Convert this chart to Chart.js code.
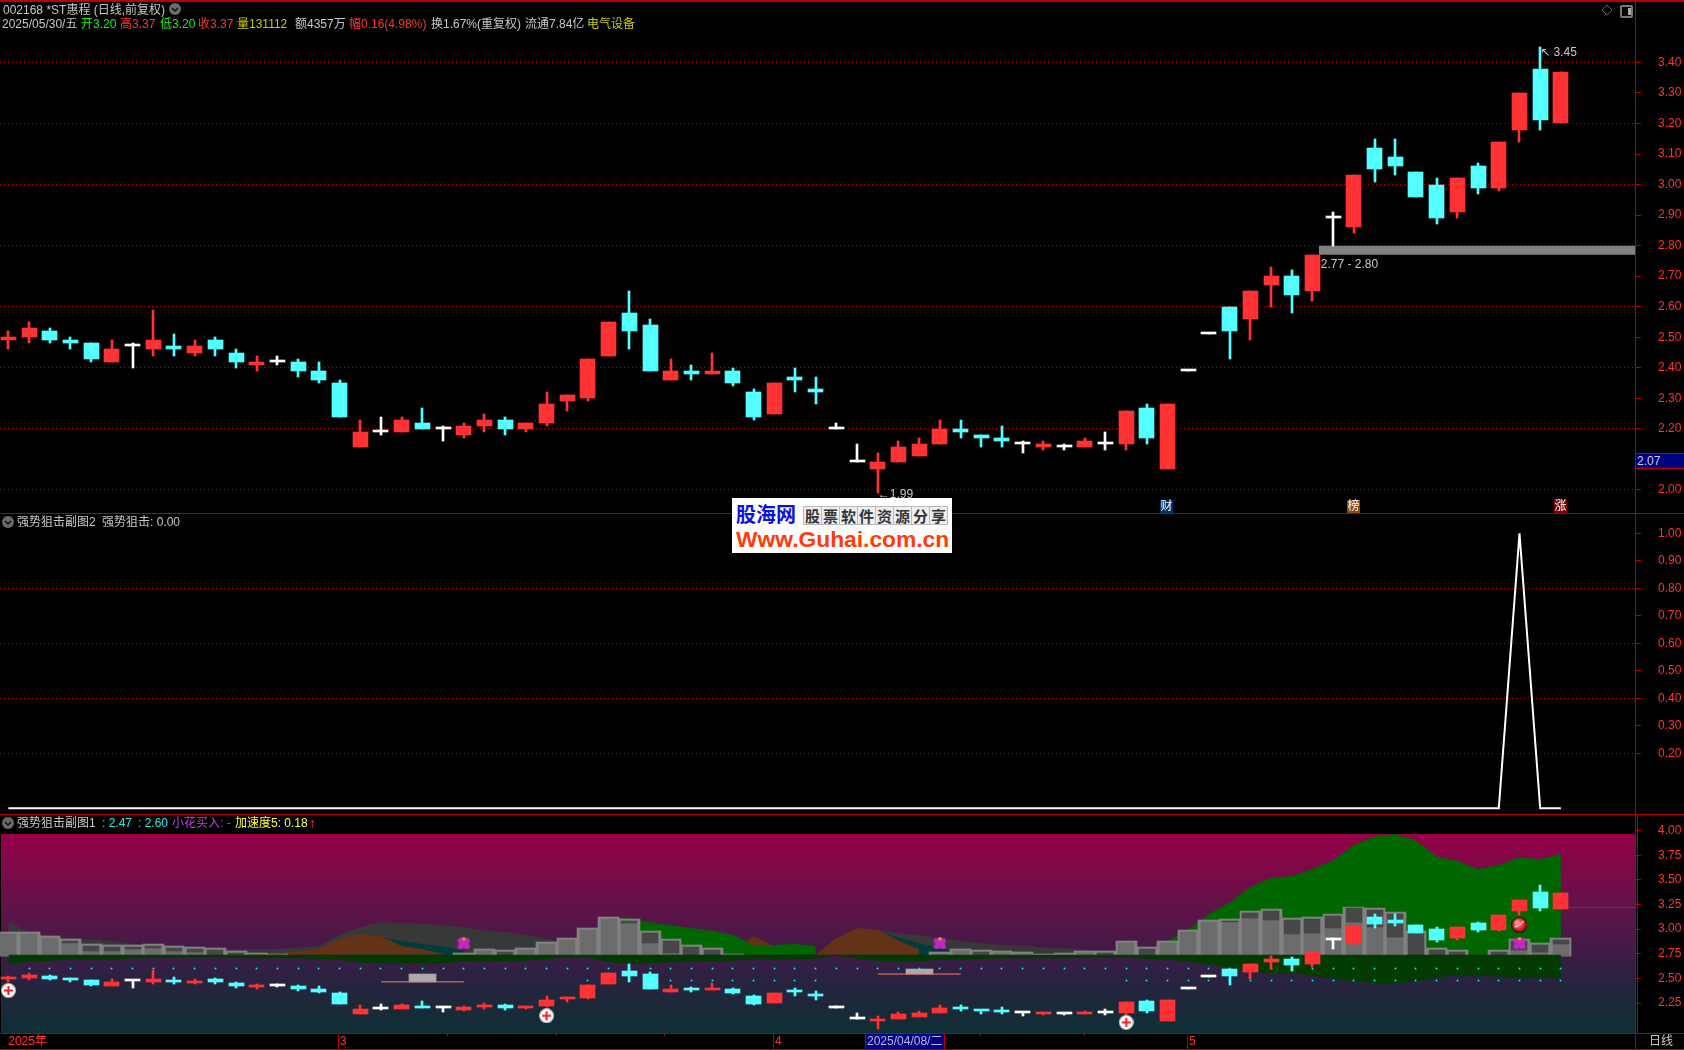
<!DOCTYPE html>
<html lang="zh">
<head>
<meta charset="utf-8">
<title>002168 *ST惠程</title>
<script src="https://cdn.jsdelivr.net/npm/chart.js@4"></script>
<style>
html,body{margin:0;padding:0;background:#000;width:1684px;height:1050px;overflow:hidden}
body{position:relative;font:12px/14px "Liberation Sans","Noto Sans CJK SC",sans-serif;color:#c8c8c8}
canvas{position:absolute;left:0}
.t{position:absolute;white-space:nowrap;height:14px;line-height:14px}
.hl,.vl{position:absolute;background:#b40000}
.hl{left:0;width:1684px;height:1px}
.vl{width:1px}
.g{color:#22e822}.r{color:#ff3333}.y{color:#cccc00}.c{color:#33e6e6}.w{color:#c8c8c8}
.chev{position:absolute;width:12px;height:12px}
.tag{position:absolute;width:13px;height:13px;top:500px;color:#fff;font-size:12px;line-height:13px;text-align:center}
#bg3{position:absolute;left:1px;top:834px;width:1634px;height:199px;
 background:linear-gradient(to bottom,rgb(150,0,72) 0%,rgb(100,18,72) 35%,rgb(60,28,70) 62%,rgb(38,36,62) 76%,rgb(13,47,52) 100%)}
#wm{position:absolute;left:732px;top:498px;width:220px;height:55px;background:#fff;overflow:hidden}
#wm .a{position:absolute;left:4px;top:4px;font:bold 20px/24px "Noto Sans CJK SC",sans-serif;color:#0a10e0;letter-spacing:0}
#wm .b{position:absolute;left:71px;top:8px;display:flex;border:1px solid #bbb}
#wm .b span{width:17px;height:17px;border-right:1px solid #bbb;background:#eee;font:bold 15px/17px "Noto Sans CJK SC",sans-serif;color:#333;text-align:center}
#wm .b span:last-child{border-right:0}
#wm .u{position:absolute;left:4px;top:29px;font:bold 22.8px/24px "Liberation Sans",sans-serif;color:#ff3c0a}
</style>
</head>
<body>
<div id="bg3"></div>
<canvas id="p1" width="1684" height="514" style="top:0"></canvas>
<canvas id="p2" width="1684" height="300" style="top:514px"></canvas>
<canvas id="p3" width="1684" height="220" style="top:814px"></canvas>

<div class="hl" style="top:0;height:2px"></div>
<div class="hl" style="top:513px"></div>
<div class="hl" style="top:814px"></div>
<div class="hl" style="top:1033px"></div>
<div class="hl" style="top:1049px"></div>
<div class="vl" style="left:1635px;top:0;height:1050px"></div>
<div class="vl" style="left:1637px;top:815px;height:218px"></div>

<!-- main header -->
<div class="t w" style="left:3px;top:3px">002168 *ST惠程 (日线,前复权)</div>
<svg class="chev" style="left:169px;top:3px" viewBox="0 0 12 12"><circle cx="6" cy="6" r="6" fill="#6a6a6a"/><polyline points="3,5 6,8 9,5" fill="none" stroke="#111" stroke-width="1.5"/></svg>
<div class="t w" style="left:2px;top:17px">2025/05/30/五</div>
<div class="t g" style="left:81px;top:17px">开3.20</div>
<div class="t r" style="left:120px;top:17px">高3.37</div>
<div class="t g" style="left:160px;top:17px">低3.20</div>
<div class="t r" style="left:198px;top:17px">收3.37</div>
<div class="t y" style="left:237px;top:17px">量131112</div>
<div class="t w" style="left:295px;top:17px">额4357万</div>
<div class="t r" style="left:349px;top:17px">幅0.16(4.98%)</div>
<div class="t w" style="left:431px;top:17px">换1.67%(重复权)</div>
<div class="t w" style="left:525px;top:17px">流通7.84亿</div>
<div class="t y" style="left:587px;top:17px">电气设备</div>
<svg style="position:absolute;left:1601px;top:4px;width:12px;height:12px" viewBox="0 0 12 12"><polygon points="6,1 11,6 6,11 1,6" fill="none" stroke="#666"/></svg>
<div style="position:absolute;left:1620px;top:5px;width:9px;height:9px;border:2px solid #777;border-radius:2px"><div style="position:absolute;right:0;top:1px;width:3px;height:7px;background:#aaa"></div></div>

<!-- pane tags -->
<div class="tag" style="left:1160px;background:#003070">财</div>
<div class="tag" style="left:1347px;background:#8a4a10">榜</div>
<div class="tag" style="left:1554px;background:#800000">涨</div>

<!-- current price box -->
<div style="position:absolute;left:1636px;top:453px;width:48px;height:14px;background:#000080;border-top:1px solid #c00000;border-bottom:1px solid #c00000"></div>
<div class="t" style="left:1637px;top:454px;color:#d0d0d0">2.07</div>

<!-- pane 2 header -->
<svg class="chev" style="left:2px;top:516px" viewBox="0 0 12 12"><circle cx="6" cy="6" r="6" fill="#6a6a6a"/><polyline points="3,5 6,8 9,5" fill="none" stroke="#111" stroke-width="1.5"/></svg>
<div class="t w" style="left:17px;top:515px">强势狙击副图2</div>
<div class="t w" style="left:102px;top:515px">强势狙击: 0.00</div>

<!-- pane 3 header -->
<svg class="chev" style="left:2px;top:817px" viewBox="0 0 12 12"><circle cx="6" cy="6" r="6" fill="#6a6a6a"/><polyline points="3,5 6,8 9,5" fill="none" stroke="#111" stroke-width="1.5"/></svg>
<div class="t w" style="left:17px;top:816px">强势狙击副图1</div>
<div class="t c" style="left:102px;top:816px">: 2.47</div>
<div class="t c" style="left:138px;top:816px">: 2.60</div>
<div class="t" style="left:172px;top:816px;color:#c040e0">小花买入: -</div>
<div class="t" style="left:235px;top:816px;color:#ffff33">加速度5: 0.18</div>
<div class="t r" style="left:309px;top:816px;font-weight:bold;font-size:14px">↑</div>

<!-- time axis -->
<div class="t r" style="left:8px;top:1034px">2025年</div>
<div class="vl" style="left:338px;top:1033px;height:16px"></div>
<div class="t r" style="left:340px;top:1034px">3</div>
<div class="vl" style="left:447px;top:1033px;height:3px"></div>
<div class="vl" style="left:556px;top:1033px;height:3px"></div>
<div class="vl" style="left:664px;top:1033px;height:3px"></div>
<div class="vl" style="left:773px;top:1033px;height:16px"></div>
<div class="t r" style="left:775px;top:1034px">4</div>
<div style="position:absolute;left:865px;top:1034px;width:78px;height:15px;background:#000080;border-left:1px solid #c00000;border-right:1px solid #c00000"></div>
<div class="t" style="left:867px;top:1034px;color:#b8b8e8">2025/04/08/二</div>
<div class="vl" style="left:980px;top:1033px;height:3px"></div>
<div class="vl" style="left:1084px;top:1033px;height:3px"></div>
<div class="vl" style="left:1187px;top:1033px;height:16px"></div>
<div class="t r" style="left:1189px;top:1034px">5</div>
<div class="t w" style="left:1649px;top:1034px">日线</div>

<div id="wm">
 <div class="a">股海网</div>
 <div class="b"><span>股</span><span>票</span><span>软</span><span>件</span><span>资</span><span>源</span><span>分</span><span>享</span></div>
 <div class="u">Www.Guhai.com.cn</div>
</div>

<script>
// ---------- data ----------
const dates=["02-07","02-10","02-11","02-12","02-13","02-14","02-17","02-18","02-19","02-20","02-21","02-24","02-25","02-26","02-27","02-28",
"03-03","03-04","03-05","03-06","03-07","03-10","03-11","03-12","03-13","03-14","03-17","03-18","03-19","03-20","03-21","03-24","03-25","03-26","03-27","03-28","03-31",
"04-01","04-02","04-03","04-07","04-08","04-09","04-10","04-11","04-14","04-15","04-16","04-17","04-18","04-21","04-22","04-23","04-24","04-25","04-28",
"04-29","05-06","05-07","05-08","05-09","05-12","05-13","05-14","05-15","05-16","05-19","05-20","05-21","05-22","05-23","05-26","05-27","05-28","05-29","05-30"];
const openP=[2.49,2.50,2.52,2.49,2.48,2.42,2.47,2.46,2.47,2.45,2.49,2.45,2.41,2.42,2.42,2.39,2.35,2.14,2.19,2.19,2.22,2.20,2.18,2.21,2.23,2.20,2.22,2.29,2.30,2.44,2.58,2.54,2.36,2.39,2.38,2.39,2.32,2.25,2.37,2.33,2.20,2.09,2.07,2.09,2.11,2.15,2.20,2.18,2.17,2.15,2.14,2.14,2.14,2.15,2.15,2.27,2.07,2.39,2.51,2.60,2.56,2.67,2.70,2.65,2.89,2.86,3.12,3.09,3.04,3.00,2.91,3.06,2.99,3.18,3.38,3.20];
const closeP=[2.50,2.53,2.49,2.48,2.43,2.46,2.47,2.49,2.46,2.47,2.46,2.42,2.42,2.42,2.39,2.36,2.24,2.19,2.19,2.23,2.20,2.20,2.21,2.23,2.20,2.22,2.28,2.31,2.43,2.55,2.52,2.39,2.39,2.38,2.39,2.35,2.24,2.35,2.36,2.32,2.20,2.09,2.09,2.14,2.15,2.20,2.19,2.17,2.16,2.15,2.15,2.14,2.16,2.15,2.26,2.17,2.28,2.39,2.51,2.52,2.65,2.70,2.64,2.77,2.89,3.03,3.05,3.06,2.96,2.89,3.02,2.99,3.14,3.30,3.21,3.37];
const highP=[2.52,2.55,2.53,2.50,2.48,2.49,2.48,2.59,2.51,2.49,2.50,2.46,2.44,2.44,2.43,2.42,2.36,2.23,2.24,2.24,2.27,2.21,2.22,2.25,2.24,2.22,2.32,2.31,2.43,2.55,2.65,2.56,2.43,2.41,2.45,2.40,2.33,2.35,2.40,2.37,2.22,2.15,2.12,2.16,2.17,2.23,2.23,2.18,2.21,2.16,2.16,2.15,2.17,2.19,2.26,2.28,2.28,2.39,2.51,2.60,2.65,2.73,2.72,2.77,2.91,3.03,3.15,3.15,3.04,3.02,3.02,3.07,3.14,3.30,3.45,3.37];
const lowP=[2.46,2.48,2.48,2.46,2.42,2.42,2.40,2.44,2.44,2.44,2.44,2.40,2.39,2.41,2.37,2.35,2.24,2.14,2.18,2.19,2.20,2.16,2.17,2.19,2.18,2.19,2.21,2.26,2.29,2.44,2.46,2.39,2.36,2.36,2.38,2.34,2.23,2.25,2.32,2.28,2.20,2.09,1.99,2.09,2.11,2.15,2.17,2.14,2.14,2.12,2.13,2.13,2.14,2.13,2.13,2.15,2.07,2.39,2.51,2.43,2.49,2.60,2.58,2.62,2.80,2.84,3.01,3.03,2.96,2.87,2.89,2.97,2.98,3.14,3.18,3.20];
const signal=[0,0,0,0,0,0,0,0,0,0,0,0,0,0,0,0,0,0,0,0,0,0,0,0,0,0,0,0,0,0,0,0,0,0,0,0,0,0,0,0,0,0,0,0,0,0,0,0,0,0,0,0,0,0,0,0,0,0,0,0,0,0,0,0,0,0,0,0,0,0,0,0,0,1,0,0];
const priceTicks=[3.40,3.30,3.20,3.10,3.00,2.90,2.80,2.70,2.60,2.50,2.40,2.30,2.20,2.00];
const priceGrid=[3.40,3.20,3.00,2.80,2.60,2.40,2.20,2.00];
const signalTicks=[1.00,0.90,0.80,0.70,0.60,0.50,0.40,0.30,0.20];
const signalGrid=[0.80,0.60,0.40,0.20];
const rangeTicks=[4.00,3.75,3.50,3.25,3.00,2.75,2.50,2.25];
const zoneTop=2.80, zoneBottom=2.77, zoneFrom=63.3, lastIndex=78.6;

// pane 3: volume-like columns on the price scale
const volTop=[2.97,2.97,2.93,2.90,2.85,2.84,2.84,2.85,2.83,2.82,2.81,2.78,2.76,2.75,null,null,null,null,null,null,null,null,2.76,2.80,2.79,2.81,2.87,2.91,3.01,3.12,3.10,2.98,2.90,2.84,2.81,2.75,null,null,null,null,null,null,null,null,null,2.77,2.80,2.79,2.78,2.77,2.75,2.76,2.78,2.78,2.88,2.82,2.88,2.99,3.09,3.10,3.18,3.20,3.11,3.12,3.15,3.23,3.21,3.17,2.98,2.81,2.79,null,2.79,2.90,2.86,2.91];
const volMid=[null,null,null,2.86,2.78,2.78,2.80,2.81,2.78,2.77,2.74,2.74,2.74,2.74,null,null,null,null,null,null,null,null,null,null,2.74,null,null,null,null,null,3.06,2.86,2.76,2.74,2.74,2.74,null,null,null,null,null,null,null,null,null,null,null,2.74,null,null,null,null,null,2.74,null,2.74,null,null,null,3.07,3.11,3.09,2.95,2.96,3.01,3.07,3.02,2.92,2.74,2.74,2.74,null,2.74,2.79,2.77,2.85];
const baseLevel=2.739;
// pane 3: hills, [first index, values...]
const hillGrayStart=0, hillGray=[3.07,2.97,2.935,2.905,2.898,2.88,2.85,2.837,2.817,2.817,2.80,2.797,2.797,2.80,2.81,2.83,2.94,3.02,3.07,3.063,3.057,3.04,3.02,2.99,2.97,2.94,2.90,2.86,2.74];
const hillGray2Start=40, hillGray2=[2.90,3.00,2.99,2.959,2.935,2.908,2.88,2.857,2.84,2.834,2.817,2.807,2.79,2.773,2.75];
const hillTealStart=17, hillTeal=[2.93,2.915,2.88,2.85,2.823,2.778];
const hillTeal2Start=42, hillTeal2=[2.99,2.915,2.857,2.807,2.77];
const hillBrownStart=12, hillBrown=[2.766,2.76,2.773,2.80,2.90,2.95,2.925,2.83,2.797,2.75];
const hillBrown2Start=35, hillBrown2=[2.78,2.93,2.83];
const hillBrown3Start=39, hillBrown3=[2.739,2.908,3.013,2.993,2.885,2.797];
const hillGreenStart=29, hillGreen=[3.12,3.11,3.07,3.04,3.01,2.985,2.94,2.84,2.84,2.85,2.83];
const hillGreen2Start=55, hillGreen2=[2.74,2.88,2.993,3.155,3.27,3.43,3.52,3.54,3.61,3.70,3.855,3.94,3.966,3.90,3.737,3.696,3.61,3.652,3.73,3.71,3.764];
const stripLow=[2.65,2.67,2.68,2.69,2.69,2.69,2.705,2.71,2.715,2.715,2.715,2.71,2.705,2.705,2.705,2.70,2.69,2.66,2.65,2.65,2.65,2.65,2.67,2.675,2.68,2.68,2.695,2.715,2.71,2.665,2.648,2.655,2.665,2.668,2.67,2.68,2.69,2.69,2.695,2.70,2.73,2.70,2.68,2.67,2.675,2.69,2.695,2.70,2.705,2.705,2.705,2.705,2.709,2.71,2.71,2.70,2.69,2.67,2.64,2.605,2.57,2.555,2.55,2.53,2.50,2.47,2.452,2.45,2.47,2.51,2.53,2.53,2.52,2.50,2.51,2.50];
const levelHigh=[null,2.60,2.60,2.60,2.60,2.60,2.60,2.60,2.60,2.60,2.60,2.60,2.60,2.60,2.60,2.60,2.60,2.60,2.60,2.60,2.60,2.60,2.60,2.60,2.60,2.60,2.60,2.60,2.60,2.60,2.60,2.60,2.60,2.60,2.60,2.60,2.60,2.60,2.60,2.60,2.60,2.60,2.60,2.60,2.60,2.60,2.60,2.60,2.60,2.60,2.60,2.60,2.60,2.60,2.60,2.60,2.60,2.60,2.60,2.60,2.60,2.60,2.60,2.60,2.60,2.60,2.60,2.60,2.60,2.60,2.60,2.60,2.60,2.60,2.60,2.60];
const levelLow=[null,null,null,null,null,null,null,null,null,null,null,null,null,null,null,null,null,null,null,null,null,null,null,null,null,null,null,null,2.47,2.47,2.47,2.47,2.47,2.47,2.47,2.47,2.47,2.47,2.47,2.47,null,null,null,null,null,null,null,null,null,null,null,null,null,null,2.47,2.47,2.47,2.47,2.47,2.47,2.47,2.47,2.47,2.47,2.47,2.47,2.47,2.47,2.47,2.47,2.47,2.47,2.47,2.47,2.47,2.47];
const boxes=[{from:18,to:22,at:20,low:2.465,high:2.54},{from:42,to:46,at:44,low:2.544,high:2.597}];
const crossMarks=[{x:0,y:2.377},{x:26,y:2.12},{x:54,y:2.053}];
const ballMarks=[{x:73,y:3.044}];
const flowerMarks=[{x:22,y:2.861},{x:45,y:2.861},{x:73,y:2.861}];
const lastLine=3.22;

// ---------- helpers ----------
const RED='#ff3333',CYAN='#54ffff',WHITE='#ffffff',AXIS='#b40000';
const xMin=-0.4058,xMax=78.58;
const idx=dates.map((d,i)=>i);
const candleColor=idx.map(i=>closeP[i]>openP[i]?RED:closeP[i]<openP[i]?CYAN:WHITE);
Chart.defaults.font.family='"Liberation Sans","Noto Sans CJK SC",sans-serif';
Chart.defaults.font.size=12;

const crisp={id:'crisp',beforeDatasetsDraw(chart){
  chart.getSortedVisibleDatasetMetas().forEach(m=>{ if(m.type!=='bar')return;
    m.data.forEach(el=>{
      el.x=(el.width%2)?Math.floor(el.x)+.5:Math.round(el.x);
      el.y=Math.round(el.y); el.base=Math.round(el.base);
      if(el.width===1) el.base=el.y+1;
    });
  });
}};
function candles(order,wick,body){
  return [
   {type:'bar',label:'影线',grouped:false,barThickness:wick,order:order+1,
    data:idx.map(i=>({x:i,y:[lowP[i],highP[i]]})),backgroundColor:candleColor,borderWidth:0},
   {type:'bar',label:'K线',grouped:false,barThickness:body,minBarLength:2,order:order,
    data:idx.map(i=>({x:i,y:[openP[i],closeP[i]]})),backgroundColor:candleColor,borderWidth:0}
  ];
}
function yScale(min,max,ticks,grid){
  const has=v=>grid.some(g=>Math.abs(g-v)<1e-6);
  return {type:'linear',position:'right',min,max,
    afterBuildTicks:s=>{s.ticks=ticks.map(v=>({value:v}));},
    afterFit:s=>{s.width=49;s.paddingTop=0;s.paddingBottom=0;},
    border:{display:true,color:AXIS,width:1,dash:[1,3]},
    grid:{color:c=>(c.tick&&has(c.tick.value))?AXIS:'rgba(0,0,0,0)',tickColor:AXIS,tickLength:6,lineWidth:1,tickWidth:1,drawTicks:true},
    ticks:{color:RED,padding:17,autoSkip:false,crossAlign:'near',callback:v=>Number(v).toFixed(2),font:{size:12}}};
}
function xScale(){return {type:'linear',display:false,min:xMin,max:xMax,offset:false,grid:{display:false}};}
function base(extra){return Object.assign({responsive:false,maintainAspectRatio:false,animation:false,devicePixelRatio:1,
  layout:{padding:0,autoPadding:false},plugins:{legend:{display:false},tooltip:{enabled:false}},events:[]},extra);}
function area(label,start,values,color,order){
  return {type:'line',label,order,data:values.map((v,i)=>({x:start+i,y:v})),borderWidth:0,pointRadius:0,tension:0,
    backgroundColor:color,borderColor:color,fill:{target:{value:baseLevel}}};
}

// ---------- pane 1 ----------
const priceNotes={id:'priceNotes',afterDatasetsDraw(c){
  const g=c.ctx,X=c.scales.x,Y=c.scales.y;
  g.save();g.fillStyle='#c8c8c8';g.font='12px "Liberation Sans","DejaVu Sans"';g.textBaseline='middle';g.textAlign='left';
  const maxI=highP.indexOf(Math.max(...highP)),minI=lowP.indexOf(Math.min(...lowP));
  g.fillText('↖ '+highP[maxI].toFixed(2),X.getPixelForValue(maxI),Y.getPixelForValue(highP[maxI])+6);
  g.fillText('←'+lowP[minI].toFixed(2),X.getPixelForValue(minI),Y.getPixelForValue(lowP[minI])+2);
  g.fillText(zoneBottom.toFixed(2)+' - '+zoneTop.toFixed(2),X.getPixelForValue(zoneFrom)+2,Y.getPixelForValue(zoneBottom)+10);
  g.restore();
}};
new Chart(document.getElementById('p1'),{type:'bar',plugins:[crisp,priceNotes],
 data:{datasets:[
  ...candles(10,2,15),
  {type:'line',label:'压力带',order:50,data:[{x:zoneFrom,y:zoneTop},{x:lastIndex,y:zoneTop}],borderWidth:0,pointRadius:0,
   backgroundColor:'#808080',fill:{target:{value:zoneBottom}}}
 ]},
 options:base({scales:{x:xScale(),y:yScale(1.9213,3.6043,priceTicks,priceGrid)}})});

// ---------- pane 2 ----------
new Chart(document.getElementById('p2'),{type:'line',
 data:{datasets:[{label:'强势狙击',data:idx.map(i=>({x:i,y:signal[i]})),borderColor:'#ffffff',borderWidth:2,pointRadius:0,tension:0,fill:false}]},
 options:base({scales:{x:xScale(),y:yScale(-0.0207,1.0702,signalTicks,signalGrid)}})});

// ---------- pane 3 ----------
function iconCanvas(size,draw){const c=document.createElement('canvas');c.width=c.height=size;draw(c.getContext('2d'),size);return c;}
const crossIcon=iconCanvas(15,(g,s)=>{
  g.fillStyle='#bbb';g.beginPath();g.arc(7.5,7.5,7.5,0,7);g.fill();
  g.fillStyle='#fff';g.beginPath();g.arc(7.5,7.5,6.4,0,7);g.fill();
  g.fillStyle='#ee1c25';g.fillRect(3,6.5,9,2);g.fillRect(6.5,3,2,9);
});
const ballIcon=iconCanvas(16,(g)=>{
  const r=g.createRadialGradient(5.5,5.5,1,8,8,8);r.addColorStop(0,'#ff9a9a');r.addColorStop(.6,'#e02a2a');r.addColorStop(1,'#800');
  g.fillStyle='#111';g.beginPath();g.arc(8,8,8,0,7);g.fill();
  g.fillStyle=r;g.beginPath();g.arc(8,8,7.2,0,7);g.fill();
  g.strokeStyle='#ffd8d8';g.lineWidth=1.3;g.beginPath();g.moveTo(3,10);g.quadraticCurveTo(9,9,12,4);g.stroke();
});
const flowerIcon=iconCanvas(13,(g)=>{
  g.fillStyle='#c427c4';
  [[3.5,4.5],[9.5,4.5],[3.5,10],[9.5,10]].forEach(p=>{g.beginPath();g.arc(p[0],p[1],3,0,7);g.fill();});
  g.fillRect(3,4,7,6);
  g.fillStyle='#e8a000';g.fillRect(5,1,3,3);
});
const gray2=idx.map(i=>volTop[i]).map((v,i)=>v==null?null:{x:i,y:[2.73,v]}).filter(Boolean);
const lower=idx.map(i=>volTop[i]==null?null:{x:i,y:[2.73,volMid[i]==null?volTop[i]-0.02:volMid[i]]}).filter(Boolean);
const dark=idx.map(i=>(volTop[i]==null||volMid[i]==null)?null:{x:i,y:[volMid[i],volTop[i]-0.02]}).filter(Boolean);
const markDots=(arr,label)=>({type:'bar',label,grouped:false,barThickness:1,minBarLength:1,order:45,
  data:idx.filter(i=>arr[i]!=null).map(i=>({x:i,y:[arr[i],arr[i]]})),backgroundColor:'#00ffff',borderWidth:0});
const iconSet=(label,data,img)=>({type:'line',label,order:5,data,showLine:false,pointStyle:img,pointRadius:7,borderWidth:0});
new Chart(document.getElementById('p3'),{type:'bar',plugins:[crisp],
 data:{datasets:[
  iconSet('买入',crossMarks,crossIcon),
  iconSet('启动',ballMarks,ballIcon),
  iconSet('小花',flowerMarks,flowerIcon),
  ...candles(10,2,15),
  {type:'line',label:'现价线',order:30,data:[{x:75,y:lastLine},{x:lastIndex,y:lastLine}],borderColor:'#d00c30',borderWidth:1,pointRadius:0},
  ...boxes.map(b=>({type:'line',label:'框线',order:41,data:[{x:b.from,y:b.low},{x:b.to,y:b.low}],borderColor:'#ff7878',borderWidth:1,pointRadius:0})),
  {type:'bar',label:'框',order:42,grouped:false,barThickness:27,data:boxes.map(b=>({x:b.at,y:[b.low,b.high]})),backgroundColor:'#aaaaaa',borderWidth:0},
  markDots(levelHigh,'2.60'),
  markDots(levelLow,'2.47'),
  {type:'line',label:'下带',order:50,data:idx.map(i=>({x:i,y:stripLow[i]})),borderWidth:0,pointRadius:0,tension:0,backgroundColor:'#023a02',fill:{target:{value:baseLevel}}},
  {type:'bar',label:'暗柱',order:55,grouped:false,barThickness:16,data:dark,backgroundColor:'#474747',borderWidth:0},
  {type:'bar',label:'内柱',order:56,grouped:false,barThickness:16,data:lower,backgroundColor:'#6c6c6c',borderWidth:0},
  {type:'bar',label:'外柱',order:57,grouped:false,barThickness:21,data:gray2,backgroundColor:'#828282',borderWidth:0},
  area('绿山',hillGreenStart,hillGreen,'#006600',70),
  area('绿山2',hillGreen2Start,hillGreen2,'#006600',70),
  area('棕山',hillBrownStart,hillBrown,'#643216',80),
  area('棕山2',hillBrown2Start,hillBrown2,'#643216',81),
  area('棕山3',hillBrown3Start,hillBrown3,'#643216',80),
  area('青',hillTealStart,hillTeal,'#003c3c',90),
  area('青2',hillTeal2Start,hillTeal2,'#003c3c',90),
  area('灰山',hillGrayStart,hillGray,'#383838',100),
  area('灰山2',hillGray2Start,hillGray2,'#383838',100)
 ]},
 options:base({scales:{x:xScale(),y:yScale(1.9352,4.1696,rangeTicks,[])}})});
</script>
</body>
</html>
